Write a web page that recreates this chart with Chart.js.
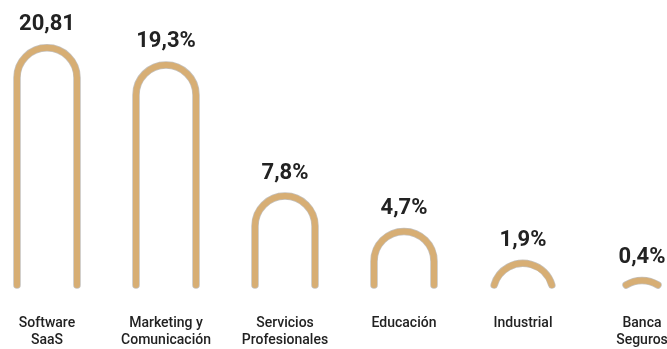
<!DOCTYPE html>
<html>
<head>
<meta charset="utf-8">
<script src="https://cdn.jsdelivr.net/npm/chart.js@4/dist/chart.umd.min.js"></script>
<style>
  html, body { margin: 0; padding: 0; background: #ffffff; }
  #wrap { width: 667px; height: 349px; position: relative; }
</style>
</head>
<body>
<div id="wrap"><canvas id="chart"></canvas></div>
<script>
// Sector shares
const categories = [
  ['Software', 'SaaS'],
  ['Marketing y', 'Comunicación'],
  ['Servicios', 'Profesionales'],
  'Educación',
  'Industrial',
  ['Banca', 'Seguros']
];
const shares = [20.81, 19.3, 7.8, 4.7, 1.9, 0.4];
const valueLabels = ['20,81', '19,3%', '7,8%', '4,7%', '1,9%', '0,4%'];

const ARCH_COLOR = '#D7AE74';
const ARCH_EDGE = 'rgba(125,115,105,0.45)';

// Draws each bar as an open arch: two legs and a rounded top.
// When the bar is shorter than the arch radius only the upper arc is kept.
function archPath(ctx, x, top, base, r) {
  const h = base - top;
  ctx.beginPath();
  if (h >= r) {
    ctx.moveTo(x - r, base);
    ctx.lineTo(x - r, top + r);
    ctx.arc(x, top + r, r, Math.PI, 2 * Math.PI);
    ctx.lineTo(x + r, base);
  } else {
    const cy = top + r;
    const s = Math.max(-1, (base - cy) / r);
    const a = Math.asin(s);
    ctx.arc(x, cy, r, Math.PI - a, 2 * Math.PI + a);
  }
}

const archPlugin = {
  id: 'archBars',
  afterDatasetsDraw(chart) {
    const ctx = chart.ctx;
    const meta = chart.getDatasetMeta(0);
    meta.data.forEach((bar, i) => {
      const p = bar.getProps(['x', 'y', 'base', 'width'], true);
      const r = p.width / 2;
      ctx.save();
      ctx.lineCap = 'round';
      ctx.lineJoin = 'round';
      archPath(ctx, p.x, p.y, p.base, r);
      ctx.strokeStyle = ARCH_EDGE;
      ctx.lineWidth = 7.5;
      ctx.stroke();
      archPath(ctx, p.x, p.y, p.base, r);
      ctx.strokeStyle = ARCH_COLOR;
      ctx.lineWidth = 6;
      ctx.stroke();

      ctx.fillStyle = '#222222';
      ctx.font = 'bold 22px Roboto';
      ctx.textAlign = 'center';
      ctx.textBaseline = 'alphabetic';
      ctx.fillText(valueLabels[i], p.x, p.y - 17.5);
      ctx.restore();
    });
  }
};

new Chart(document.getElementById('chart'), {
  type: 'bar',
  data: {
    labels: categories,
    datasets: [{
      data: shares,
      backgroundColor: 'rgba(0,0,0,0)',
      borderWidth: 0,
      barThickness: 60
    }]
  },
  options: {
    responsive: true,
    maintainAspectRatio: false,
    animation: false,
    layout: { padding: { left: 47, right: 25, top: 0, bottom: 0 } },
    plugins: {
      legend: { display: false },
      tooltip: { enabled: false }
    },
    scales: {
      x: {
        offset: false,
        grid: { display: false, drawTicks: false },
        border: { display: false },
        ticks: {
          padding: 30,
          autoSkip: false,
          maxRotation: 0,
          color: '#222222',
          font: { family: 'Roboto', size: 14, weight: '500', lineHeight: 1.2 }
        },
        afterFit(scale) {
          scale.paddingLeft = 0;
          scale.paddingRight = 0;
          scale.height = 64;
        }
      },
      y: {
        display: false,
        min: 0,
        max: 25
      }
    }
  },
  plugins: [archPlugin]
});
</script>
</body>
</html>
